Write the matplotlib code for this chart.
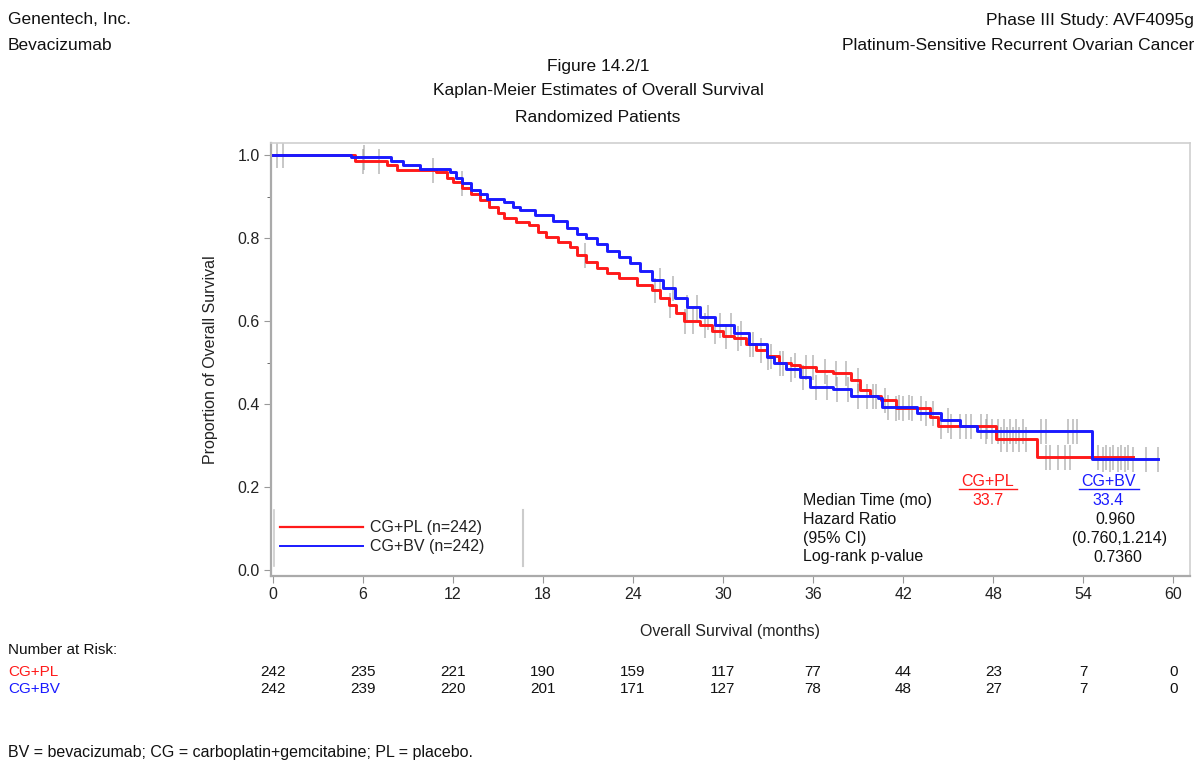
import numpy as np
import matplotlib
matplotlib.use("Agg")
import matplotlib.pyplot as plt
from matplotlib.transforms import blended_transform_factory
from matplotlib.lines import Line2D

plt.rcParams['font.family'] = ['Liberation Sans', 'DejaVu Sans']

# KM step points (time in months, proportion surviving)
pl_time = [0, 5.5, 7.6, 8.3, 10.9, 11.6, 12.0, 12.6, 13.2, 13.8, 14.4, 15.0, 15.4, 16.2,
           17.1, 17.7, 18.2, 19.0, 19.8, 20.3, 20.9, 21.6, 22.3, 23.1, 24.3, 25.3, 25.8,
           26.4, 26.9, 27.4, 28.5, 29.3, 30.0, 30.7, 31.5, 32.2, 32.9, 33.7, 34.5, 35.1,
           36.2, 37.3, 38.5, 39.1, 39.8, 40.5, 41.5, 43.8, 44.3, 48.2, 50.9, 57.3]
pl_surv = [1.0, 0.985, 0.975, 0.965, 0.958, 0.945, 0.936, 0.92, 0.905, 0.892, 0.875, 0.86,
           0.848, 0.838, 0.831, 0.815, 0.803, 0.79, 0.779, 0.76, 0.742, 0.728, 0.715, 0.704,
           0.687, 0.675, 0.655, 0.638, 0.62, 0.60, 0.59, 0.575, 0.565, 0.559, 0.545, 0.53,
           0.515, 0.50, 0.495, 0.49, 0.48, 0.474, 0.458, 0.434, 0.42, 0.41, 0.39, 0.37,
           0.348, 0.315, 0.272, 0.272]

bv_time = [0, 5.2, 7.9, 8.7, 9.8, 11.8, 12.2, 12.6, 13.2, 13.8, 14.3, 15.4, 16.0, 16.5,
           17.5, 18.7, 19.6, 20.3, 20.9, 21.6, 22.3, 23.1, 23.8, 24.5, 25.3, 26.0, 26.8,
           27.6, 28.5, 29.5, 30.7, 31.7, 32.9, 33.4, 34.2, 35.1, 35.8, 37.3, 38.5, 40.3,
           40.6, 42.9, 44.5, 45.8, 46.9, 54.6, 59.0]
bv_surv = [1.0, 0.995, 0.985, 0.976, 0.966, 0.96, 0.945, 0.932, 0.915, 0.905, 0.894, 0.887,
           0.875, 0.867, 0.855, 0.84, 0.824, 0.81, 0.80, 0.785, 0.77, 0.754, 0.74, 0.72,
           0.699, 0.68, 0.655, 0.634, 0.61, 0.59, 0.571, 0.545, 0.514, 0.50, 0.485, 0.466,
           0.441, 0.436, 0.42, 0.414, 0.393, 0.378, 0.361, 0.348, 0.335, 0.267, 0.267]

# censoring times
pl_cens = [0.3, 6.0, 7.1, 10.7, 20.8, 25.5, 26.5, 27.5, 28.0, 28.8, 29.5, 30.2, 31.0, 31.8,
           32.5, 33.2, 34.0, 34.8, 35.5, 36.0, 36.8, 37.5, 38.2, 39.0, 40.0, 40.8, 41.5,
           42.0, 42.6, 43.2, 44.5, 45.2, 45.8, 46.5, 47.2, 47.6, 48.5, 48.9, 49.3, 49.7,
           50.2, 51.5, 51.8, 52.3, 52.8, 53.1, 55.0, 55.5, 56.0, 56.5, 57.0]
bv_cens = [0.7, 6.1, 12.6, 25.8, 26.7, 27.6, 28.3, 29.0, 29.8, 30.5, 31.2, 32.0, 33.0, 33.8,
           34.5, 35.3, 36.2, 36.9, 37.6, 38.3, 39.0, 39.6, 40.2, 41.0, 41.7, 42.4, 43.5,
           44.0, 45.0, 46.2, 47.5, 47.9, 48.3, 48.7, 49.1, 49.5, 50.0, 51.2, 51.5, 53.0,
           53.3, 53.6, 55.3, 55.8, 56.3, 56.8, 57.3, 58.2, 59.0]

risk_times = [0, 6, 12, 18, 24, 30, 36, 42, 48, 54, 60]
risk_pl = [242, 235, 221, 190, 159, 117, 77, 44, 23, 7, 0]
risk_bv = [242, 239, 220, 201, 171, 127, 78, 48, 27, 7, 0]

RED = '#ff1a1a'
BLUE = '#1a1aff'
W, H = 1201, 766


def fx(x):
    return x / W


def fy(y):
    return 1 - y / H


def step_at(times, surv, t):
    i = np.searchsorted(times, t, side='right') - 1
    return np.array(surv)[i]


fig = plt.figure(figsize=(12.01, 7.66), dpi=100)
ax = fig.add_axes([fx(271), fy(576), fx(1190 - 271), (576 - 143) / H])

for tm, sv, cens, col in [(pl_time, pl_surv, pl_cens, RED), (bv_time, bv_surv, bv_cens, BLUE)]:
    ax.step(tm, sv, where='post', color=col, lw=2.1, zorder=3)
    cy = step_at(tm, sv, np.array(cens))
    ax.plot(cens, cy, ls='none', marker='|', ms=18, mew=1.1, color='#888888', alpha=0.6, zorder=2)

ax.set_xlim(-0.1, 61.1)
ax.set_ylim(-0.014, 1.029)
ax.set_xticks(risk_times)
ax.set_yticks([0, 0.2, 0.4, 0.6, 0.8, 1.0])
ax.set_yticklabels(['0.0', '0.2', '0.4', '0.6', '0.8', '1.0'])
ax.set_yticks([0.5, 0.9], minor=True)
ax.tick_params(axis='both', which='major', length=5, color='#999999', labelsize=11.5,
               labelcolor='#222222', pad=3)
ax.tick_params(axis='y', which='minor', length=3, color='#555555')
for s in ['top', 'right']:
    ax.spines[s].set_color('#cfcfcf')
    ax.spines[s].set_linewidth(1.2)
for s in ['left', 'bottom']:
    ax.spines[s].set_color('#aaaaaa')
    ax.spines[s].set_linewidth(1.6)

ax.set_xlabel('Overall Survival (months)', fontsize=11.5, color='#222222', labelpad=16)
ax.set_ylabel('Proportion of Overall Survival', fontsize=11.5, color='#222222', labelpad=14)

# legend drawn in data coordinates
ax.plot([0.5, 6.0], [0.104, 0.104], color=RED, lw=1.6)
ax.plot([0.5, 6.0], [0.058, 0.058], color=BLUE, lw=1.4)
ax.text(6.5, 0.104, 'CG+PL (n=242)', fontsize=11.5, va='center', color='#222222')
ax.text(6.5, 0.058, 'CG+BV (n=242)', fontsize=11.5, va='center', color='#222222')
ax.plot([0.12, 0.12], [0.01, 0.145], color='#cccccc', lw=1.2)
ax.plot([16.7, 16.7], [0.01, 0.145], color='#cccccc', lw=1.5)

# summary statistics
fig.text(fx(988), fy(481), 'CG+PL', color=RED, fontsize=11.5, ha='center', va='center')
fig.text(fx(1109), fy(481), 'CG+BV', color=BLUE, fontsize=11.5, ha='center', va='center')
fig.add_artist(Line2D([fx(959), fx(1017)], [fy(489), fy(489)], color=RED, lw=1))
fig.add_artist(Line2D([fx(1079), fx(1139)], [fy(489), fy(489)], color=BLUE, lw=1))
left_lbls = ['Median Time (mo)', 'Hazard Ratio', '(95% CI)', 'Log-rank p-value']
rows_y = [500, 519, 538, 557]
for lbl, yy in zip(left_lbls, rows_y):
    fig.text(fx(803), fy(yy), lbl, fontsize=11.5, va='center', color='#111111')
fig.text(fx(988), fy(500), '33.7', color=RED, fontsize=11.5, ha='center', va='center')
fig.text(fx(1108), fy(500), '33.4', color=BLUE, fontsize=11.5, ha='center', va='center')
fig.text(fx(1115), fy(519), '0.960', fontsize=11.5, ha='center', va='center', color='#111111')
fig.text(fx(1120), fy(538), '(0.760,1.214)', fontsize=11.5, ha='center', va='center', color='#111111')
fig.text(fx(1118), fy(557), '0.7360', fontsize=11.5, ha='center', va='center', color='#111111')

# header
hdr = dict(fontsize=12.5, va='center', color='#111111')
fig.text(fx(8), fy(20), 'Genentech, Inc.', **hdr)
fig.text(fx(8), fy(46), 'Bevacizumab', **hdr)
fig.text(fx(1194), fy(20), 'Phase III Study: AVF4095g', ha='right', **hdr)
fig.text(fx(1194), fy(46), 'Platinum-Sensitive Recurrent Ovarian Cancer', ha='right', **hdr)
fig.text(fx(598), fy(67), 'Figure 14.2/1', ha='center', **hdr)
fig.text(fx(598), fy(90), 'Kaplan-Meier Estimates of Overall Survival', ha='center', **hdr)
fig.text(fx(598), fy(118), 'Randomized Patients', ha='center', **hdr)

# number at risk table
tr = blended_transform_factory(ax.transData, fig.transFigure)
fig.text(fx(8), fy(650), 'Number at Risk:', fontsize=11, va='center', color='#111111')
fig.text(fx(8), fy(672), 'CG+PL', fontsize=11, va='center', color=RED)
fig.text(fx(8), fy(689), 'CG+BV', fontsize=11, va='center', color=BLUE)
for t, a, b in zip(risk_times, risk_pl, risk_bv):
    ax.text(t, fy(672), str(a), transform=tr, ha='center', va='center', fontsize=11,
            color='#111111', clip_on=False)
    ax.text(t, fy(689), str(b), transform=tr, ha='center', va='center', fontsize=11,
            color='#111111', clip_on=False)

fig.text(fx(8), fy(752), 'BV = bevacizumab; CG = carboplatin+gemcitabine; PL = placebo.',
         fontsize=11.5, va='center', color='#111111')

fig.savefig('out.png', dpi=100)
